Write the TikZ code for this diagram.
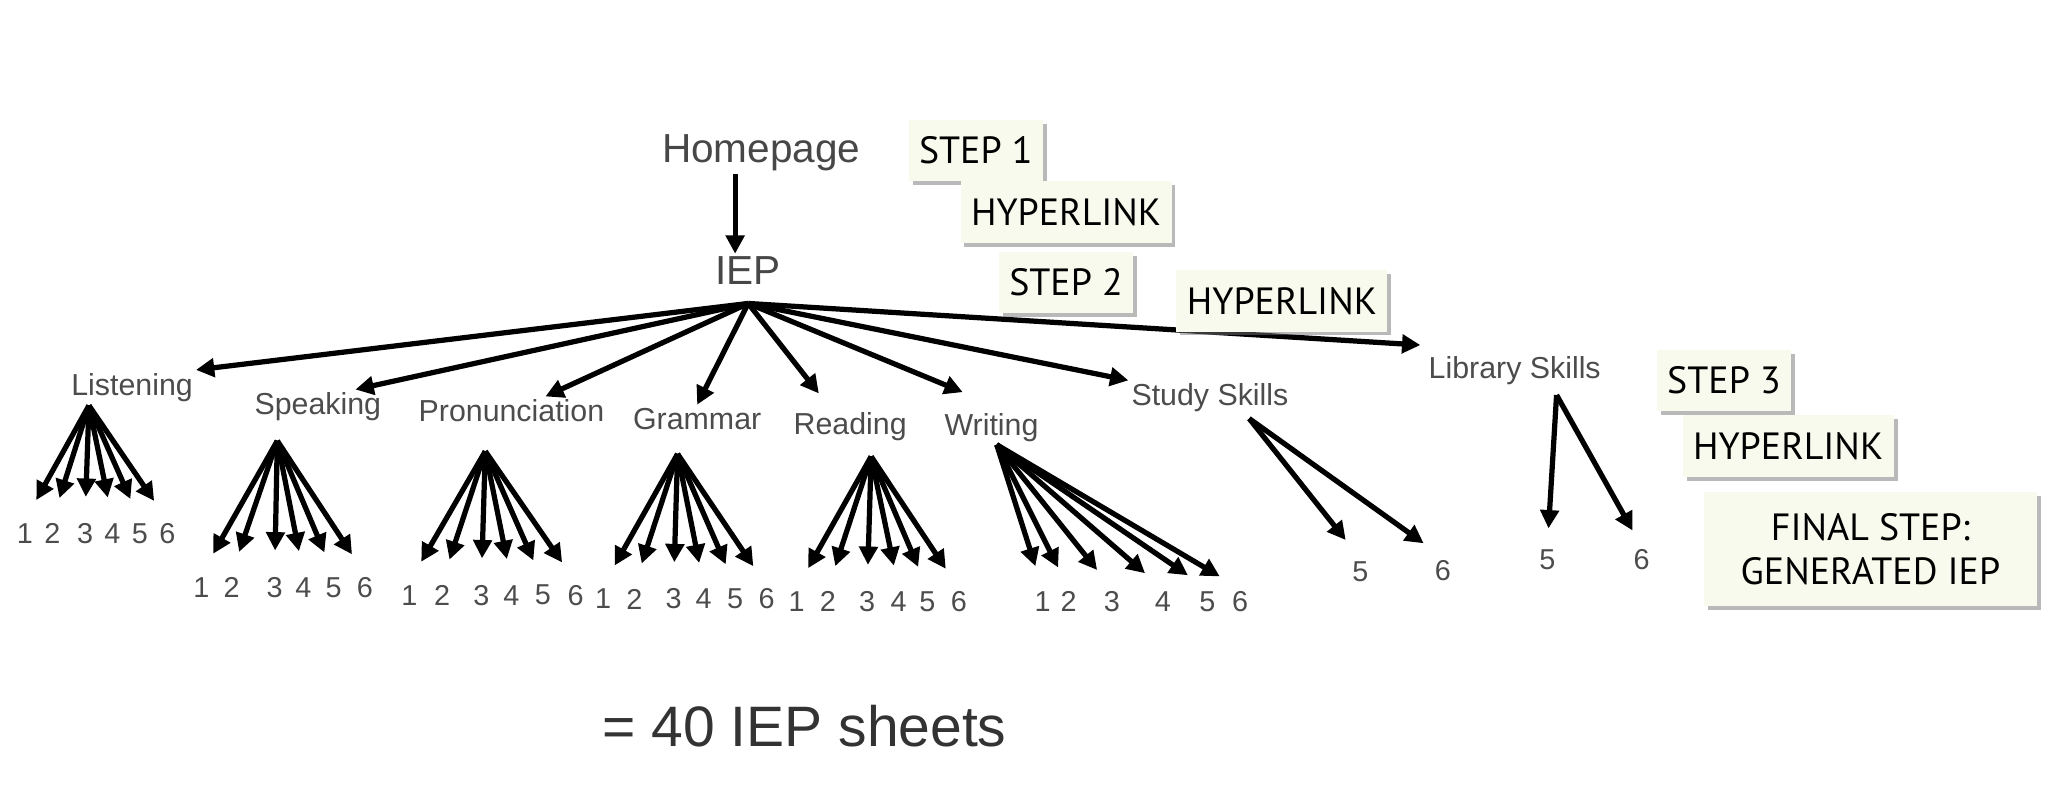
\documentclass[tikz,border=0pt]{standalone}
\usepackage{fontspec}
\setmainfont{Liberation Sans}
\newfontfamily\gill{PT Sans}
\usetikzlibrary{shapes,arrows,arrows.meta,positioning,shadows}
\definecolor{boxfill}{RGB}{247,250,236}

\begin{document}
\begin{tikzpicture}[x=0.5pt,y=-0.5pt,
  big/.style={text=black!72,font=\fontsize{15.5}{18}\selectfont,inner sep=1pt},
  lbl/.style={text=black!70,font=\fontsize{11.6}{13}\selectfont,inner sep=1pt},
  num/.style={text=black!70,font=\fontsize{11}{13}\selectfont,inner sep=1pt},
  arr/.style={-{Triangle[length=7pt,width=7pt]},line width=2pt},
  stepbox/.style={fill=boxfill,font=\gill\fontsize{14.5}{17}\selectfont,inner xsep=4pt,inner ysep=6.5pt,
    drop shadow={shadow xshift=1.5pt,shadow yshift=-1.5pt,fill=black!55}}]
  \useasboundingbox (0,0) rectangle (1568,609);
  \node[big] (hom) at (582,117) {Homepage};
  \node[big] (iep) at (572,207) {IEP};
  \draw[arr] ([xshift=-10pt]hom.south) -- ([xshift=-10pt]hom.south |- iep.north);
  \coordinate (hub) at (572,232);
  \node[lbl] (lst) at (101,296) {Listening};
  \node[lbl] (spk) at (243,311) {Speaking};
  \node[lbl] (pro) at (391,314) {Pronunciation};
  \node[lbl] (gra) at (533,320) {Grammar};
  \node[lbl] (rea) at (650,326) {Reading};
  \node[lbl] (wri) at (758,327) {Writing};
  \node[lbl] (stu) at (925,304) {Study Skills};
  \node[lbl] (lib) at (1158,283) {Library Skills};
  \draw[arr] (hub) -- (lst.north east);
  \draw[arr] (hub) -- ([xshift=-11pt]spk.north east);
  \draw[arr] (hub) -- ([xshift=13pt]pro.north);
  \draw[arr] (hub) -- (gra.north);
  \draw[arr] (hub) -- ([xshift=-12pt,yshift=6pt]rea.north);
  \draw[arr] (hub) -- ([xshift=-11pt,yshift=7pt]wri.north);
  \draw[arr] (hub) -- (stu.north west);
  \draw[arr] (hub) -- ([xshift=-2pt,yshift=3pt]lib.north west);
  \foreach \f/\ax/\ay/\dy/\xs in {lst/68/310/408/{19,40,65,86,107,128},
      spk/212/337/449/{154,177,210,232,255,279},
      pro/371/345/455/{313,338,368,391,415,440},
      gra/518/347/458/{461,485,515,538,562,586},
      rea/666/349/460/{609,633,663,687,709,733},
      wri/762/340/460/{797,817,850,889,923,948}}{
    \coordinate (\f A) at (\ax,\ay);
    \foreach \x [count=\n] in \xs{
      \node[num] (\f\n) at (\x,\dy) {\n};
      \draw[arr,shorten >=9pt] (\f A) -- (\f\n.north);
    }
  }
  \coordinate (stuA) at (955,320);
  \node[num] (stu5) at (1040,437) {5};
  \node[num] (stu6) at (1103,436) {6};
  \coordinate (libA) at (1190,302);
  \node[num] (lib5) at (1183,428) {5};
  \node[num] (lib6) at (1255,428) {6};
  \foreach \n in {5,6}{
    \draw[arr,shorten >=9pt] (stuA) -- (stu\n.north);
    \draw[arr,shorten >=7pt] (libA) -- (lib\n.north);
  }
  \node[stepbox] (s1) at (746,115) {STEP 1};
  \node[stepbox] (h1) at (815,162) {HYPERLINK};
  \node[stepbox] (s2) at (815,216) {STEP 2};
  \node[stepbox] (h2) at (980,230) {HYPERLINK};
  \node[stepbox] (s3) at (1318,291) {STEP 3};
  \node[stepbox] (h3) at (1367,341) {HYPERLINK};
  \node[stepbox,align=center,inner xsep=14pt,inner ysep=8pt] (fin) at (1430,420) {FINAL STEP:\\GENERATED IEP};
  \node[text=black!80,font=\fontsize{21.8}{26}\selectfont] (tot) at (615,555) {= 40 IEP sheets};
\end{tikzpicture}
\end{document}
